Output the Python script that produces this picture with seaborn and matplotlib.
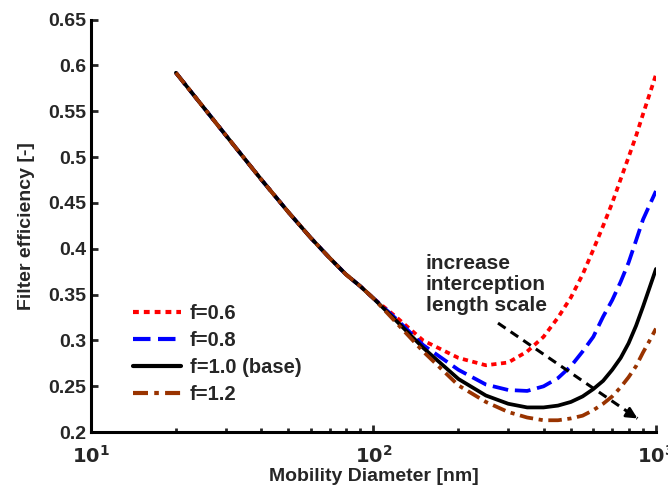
import numpy as np
import pandas as pd
import seaborn as sns
import matplotlib
matplotlib.use("Agg")
import matplotlib.pyplot as plt
from matplotlib.ticker import FixedLocator, FuncFormatter, LogLocator, NullFormatter

# mobility diameter [nm]
diameter = [20, 30, 40, 50, 60, 70, 80, 90, 100, 120, 150, 200, 250, 300,
            350, 400, 450, 500, 550, 600, 650, 700, 750, 800, 850, 900, 950, 1000]

# shared small-diameter part (diffusion regime), same for all f
common = [0.592, 0.524, 0.476, 0.440, 0.412, 0.390, 0.372, 0.359, 0.346]

eff_f06 = common + [0.326, 0.300, 0.281, 0.273, 0.276, 0.288, 0.304, 0.325,
                    0.347, 0.372, 0.399, 0.425, 0.450, 0.476, 0.500, 0.523,
                    0.547, 0.569, 0.590]
eff_f08 = common + [0.324, 0.295, 0.268, 0.252, 0.246, 0.245, 0.250, 0.259,
                    0.272, 0.288, 0.304, 0.326, 0.344, 0.364, 0.385, 0.409,
                    0.432, 0.448, 0.463]
eff_f10 = common + [0.322, 0.292, 0.258, 0.240, 0.231, 0.227, 0.227, 0.229,
                    0.233, 0.239, 0.247, 0.256, 0.268, 0.281, 0.297, 0.316,
                    0.337, 0.358, 0.378]
eff_f12 = common + [0.320, 0.288, 0.251, 0.233, 0.222, 0.216, 0.213, 0.213,
                    0.215, 0.218, 0.224, 0.231, 0.239, 0.249, 0.260, 0.272,
                    0.287, 0.300, 0.313]

labels = ["f=0.6", "f=0.8", "f=1.0 (base)", "f=1.2"]
colors = ["#ff0000", "#0000ff", "#000000", "#993300"]
styles = [(0, (1.4, 1.2)), (0, (4.2, 1.8)), "-", (0, (3.6, 1.5, 1.1, 1.5))]

# arrow: "increase interception length scale"
arrow_start = (276, 0.319)
arrow_end = (860, 0.215)

df = pd.DataFrame({
    "diameter": diameter * 4,
    "eff": eff_f06 + eff_f08 + eff_f10 + eff_f12,
    "case": np.repeat(labels, len(diameter)),
})

sns.set_style("white")
plt.rcParams["font.family"] = ["Liberation Sans", "DejaVu Sans"]
plt.rcParams["font.weight"] = "bold"
plt.rcParams["mathtext.default"] = "bf"

fig = plt.figure(figsize=(6.68, 4.9), dpi=100)
ax = fig.add_axes([0.136, 0.118, 0.846, 0.842])

for lab, col, ls in zip(labels, colors, styles):
    sub = df[df["case"] == lab]
    sns.lineplot(data=sub, x="diameter", y="eff", ax=ax, color=col,
                 linestyle=ls, linewidth=2.7, label=lab, estimator=None,
                 sort=False)
for line in ax.get_lines():
    line.set_dash_capstyle("butt")

ax.set_xscale("log")
ax.set_xlim(10, 1000)
ax.set_ylim(0.2, 0.65)

ax.xaxis.set_major_locator(FixedLocator([10, 100, 1000]))
ax.xaxis.set_major_formatter(FuncFormatter(lambda v, p: r"$\mathbf{10^{%d}}$" % round(np.log10(v))))
ax.xaxis.set_minor_locator(LogLocator(base=10, subs=np.arange(2, 10)))
ax.xaxis.set_minor_formatter(NullFormatter())
ax.yaxis.set_major_locator(FixedLocator(np.arange(0.2, 0.651, 0.05)))
ax.yaxis.set_major_formatter(FuncFormatter(lambda v, p: "%g" % round(v, 2)))

ax.tick_params(axis="both", which="major", direction="in", length=5, width=2,
               labelsize=14, bottom=True, left=True)
ax.tick_params(axis="x", which="major", pad=9)
ax.tick_params(axis="x", which="minor", direction="in", length=3, width=2,
               bottom=True)
for lbl in ax.get_yticklabels():
    lbl.set_fontweight("bold")

for side in ["top", "right"]:
    ax.spines[side].set_visible(False)
for side in ["left", "bottom"]:
    ax.spines[side].set_linewidth(2.2)
    ax.spines[side].set_color("black")

ax.set_xlabel("Mobility Diameter [nm]", fontsize=14, fontweight="bold", labelpad=1)
ax.set_ylabel("Filter efficiency [-]", fontsize=14, fontweight="bold", labelpad=9)

leg = ax.legend(loc="upper left", bbox_to_anchor=(0.074, 0.31), frameon=False,
                fontsize=14.5, handlelength=2.4, handletextpad=0.45,
                labelspacing=0.4, borderpad=0, borderaxespad=0)
for t in leg.get_texts():
    t.set_fontweight("bold")
for h in leg.get_lines():
    h.set_linewidth(3)

ax.text(153, 0.394, "increase\ninterception\nlength scale", fontsize=15,
        fontweight="bold", ha="left", va="top", linespacing=1.12)

ax.plot([arrow_start[0], arrow_end[0]], [arrow_start[1], arrow_end[1]],
        color="black", linewidth=2.2, linestyle=(0, (3, 2)))
ax.annotate("", xy=arrow_end, xytext=(arrow_end[0] * 0.93, arrow_end[1] + 0.006),
            arrowprops=dict(arrowstyle="-|>", color="black", lw=2,
                            mutation_scale=16, shrinkA=0, shrinkB=0))

fig.savefig("out.png", dpi=100)
